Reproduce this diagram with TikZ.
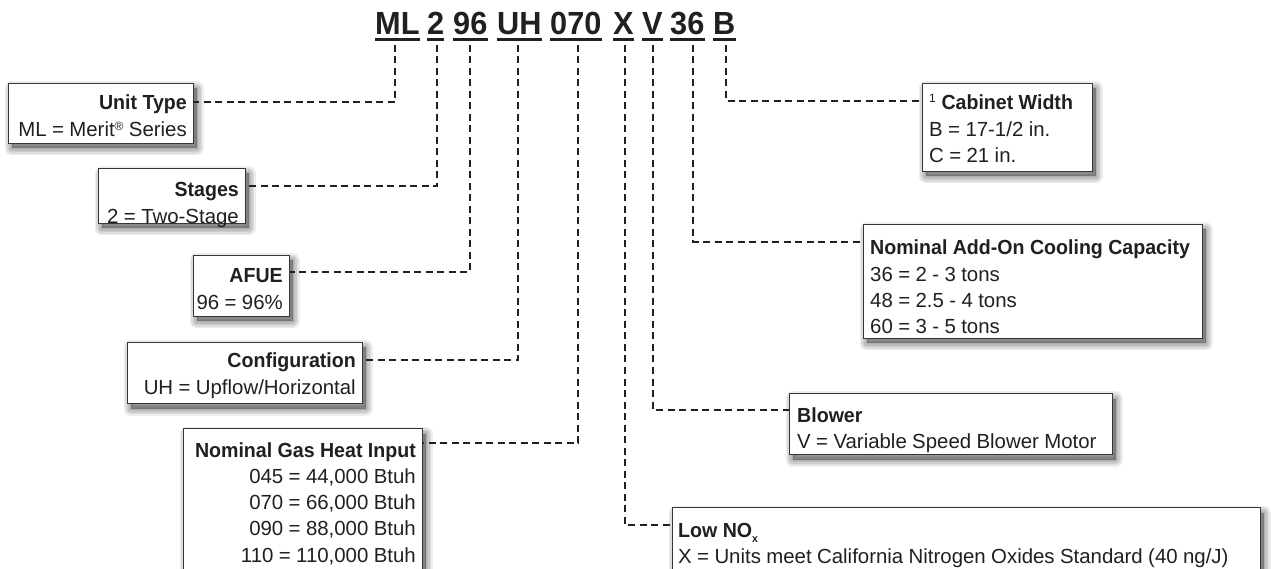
\documentclass[tikz,border=0pt]{standalone}
\usepackage{fontspec}
\setmainfont{Liberation Sans}[BoldFeatures={FakeStretch=0.96}]
\definecolor{ink}{HTML}{231F20}
\begin{document}
\begin{tikzpicture}[x=1pt,y=-1pt,
  ttl/.style={font=\fontsize{32}{32}\selectfont\bfseries, text=ink, inner sep=0pt, anchor=base west},
  uline/.style={line width=3pt, draw=ink},
  conn/.style={draw=ink, line width=2.3pt, dash pattern=on 7pt off 4.5pt},
  shl/.style={preaction={draw=black, fill=black, line width=#1, line join=round, opacity=0.07,
    transform canvas={xshift=3pt,yshift=-5pt}}},
  box/.style={draw=ink!90, line width=1pt, fill=white, anchor=north west, inner sep=0pt,
    shl=14pt, shl=11pt, shl=8pt, shl=5pt, shl=2pt},
  txt/.style={font=\fontsize{20.4}{26.3}\selectfont, text=ink, inner sep=0pt,
    execute at begin node={\spaceskip=5.4pt\relax}},
  rtxt/.style={txt, text width=300pt, align=right, anchor=base east},
  ltxt/.style={txt, text width=620pt, align=left, anchor=base west},
]
\useasboundingbox[fill=white] (0,0) rectangle (1275,569);

% title code
\node[ttl] (tML) at (375,35) {ML};
\node[ttl] (t2) at (427,35) {2};
\node[ttl] (t96) at (453,35) {96};
\node[ttl] (tUH) at (497,35) {UH};
\node[ttl] (t070) at (550,35) {070};
\node[ttl] (tX) at (613,35) {X};
\node[ttl] (tV) at (642,35) {V};
\node[ttl] (t36) at (670,35) {36};
\node[ttl] (tB) at (713,35) {B};
\foreach \n in {tML,t2,t96,tUH,t070,tX,tV,t36,tB}
  \draw[uline] ([yshift=-5pt]\n.base west) -- ([yshift=-5pt]\n.base east);

% boxes
\node[box, minimum width=185pt, minimum height=60pt] (unit) at (8,83) {};
\node[box, minimum width=147pt, minimum height=55pt] (stages) at (98,168) {};
\node[box, minimum width=96pt, minimum height=61pt] (afue) at (193,255) {};
\node[box, minimum width=235pt, minimum height=61pt] (config) at (127,342) {};
\node[box, minimum width=239pt, minimum height=170pt] (gas) at (183,428) {};
\node[box, minimum width=170pt, minimum height=88pt] (cab) at (922,83) {};
\node[box, minimum width=339pt, minimum height=114pt] (cool) at (863,224) {};
\node[box, minimum width=323pt, minimum height=61pt] (blow) at (789,393) {};
\node[box, minimum width=588pt, minimum height=100pt] (nox) at (672,507) {};

% texts
\node[rtxt] (unitT) at (187,110) {\textbf{Unit Type}\\ML = Merit{\fontsize{12}{12}\selectfont\raisebox{6pt}{®}} Series};
\node[rtxt] (stagesT) at (239,197) {\textbf{Stages}\\2 = Two-Stage};
\node[rtxt] (afueT) at (283,283) {\textbf{AFUE}\\96 = 96\%};
\node[rtxt] (configT) at (356,368) {\textbf{Configuration}\\UH = Upflow/Horizontal};
\node[rtxt] (gasT) at (416,457) {\textbf{Nominal Gas Heat Input}\\045 = 44,000 Btuh\\070 = 66,000 Btuh\\090 = 88,000 Btuh\\110 = 110,000 Btuh};
\node[ltxt] (cabT) at (929,110) {{\fontsize{12}{12}\selectfont\raisebox{7pt}{1}}\;\textbf{Cabinet Width}\\B = 17-1/2 in.\\C = 21 in.};
\node[ltxt] (coolT) at (870,255) {\textbf{Nominal Add-On Cooling Capacity}\\36 = 2 - 3 tons\\48 = 2.5 - 4 tons\\60 = 3 - 5 tons};
\node[ltxt] (blowT) at (797,422) {\textbf{Blower}\\V = Variable Speed Blower Motor};
\node[ltxt] (noxT) at (678,537) {\textbf{Low NO{\fontsize{11}{11}\selectfont\raisebox{-5pt}{x}}}\\X = Units meet California Nitrogen Oxides Standard (40 ng/J)};

% connector ends under the title
\coordinate (cML) at (395,45);
\coordinate (c2) at (437,45);
\coordinate (c96) at (470,45);
\coordinate (cUH) at (518,45);
\coordinate (c070) at (578,45);
\coordinate (cX) at (625,45);
\coordinate (cV) at (653,45);
\coordinate (c36) at (693,45);
\coordinate (cB) at (726,45);

\draw[conn] (cML) |- ([yshift=-19pt]unit.north east);
\draw[conn] (c2) |- ([yshift=-18pt]stages.north east);
\draw[conn] (c96) |- ([yshift=-17pt]afue.north east);
\draw[conn] (cUH) |- ([yshift=-18pt]config.north east);
\draw[conn] (c070) |- ([yshift=-15pt]gas.north east);
\draw[conn] (cX) |- ([yshift=-18pt]nox.north west);
\draw[conn] (cV) |- ([yshift=-17pt]blow.north west);
\draw[conn] (c36) |- ([yshift=-18pt]cool.north west);
\draw[conn] (cB) |- ([yshift=-18pt]cab.north west);
\end{tikzpicture}
\end{document}
